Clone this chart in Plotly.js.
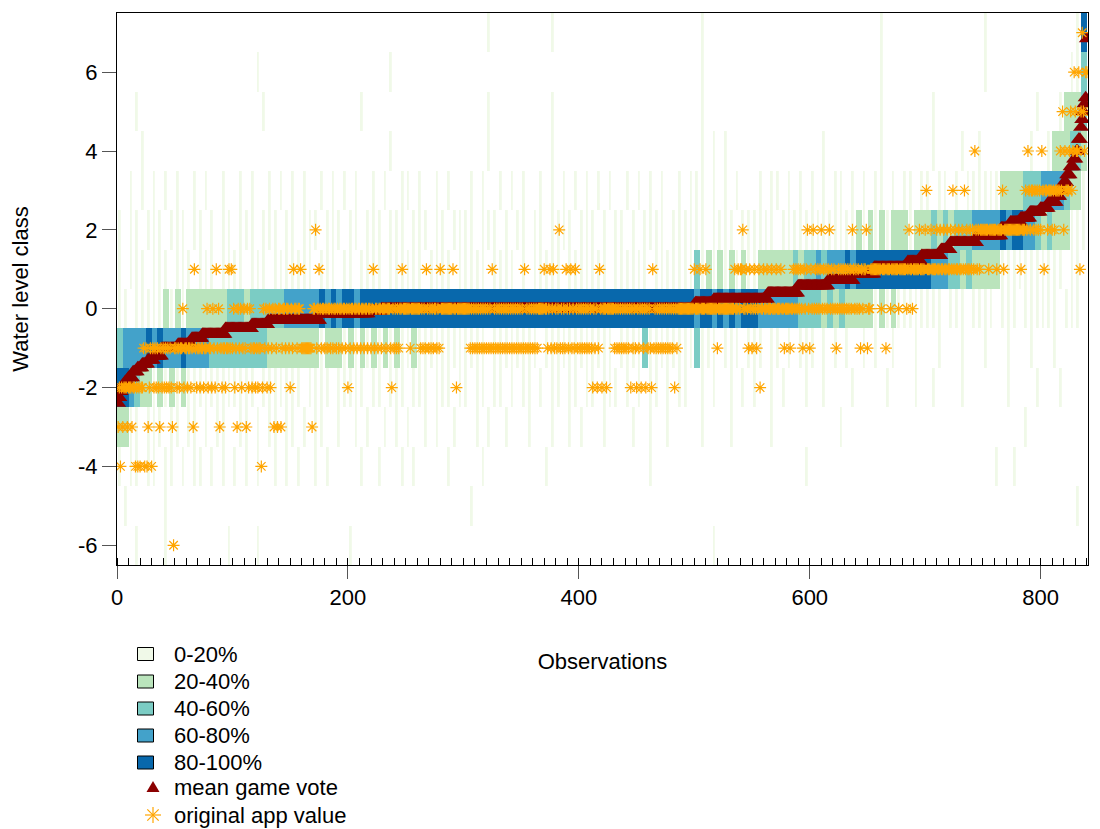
<!DOCTYPE html>
<html><head><meta charset="utf-8">
<script src="https://cdn.plot.ly/plotly-3.0.1.min.js"></script>
<style>html,body{margin:0;padding:0;background:#fff;}#chart{width:1100px;height:829px;}</style>
</head><body><div id="chart"></div>
<script>
// ---------------- data ----------------
const classes = [-6,-5,-4,-3,-2,-1,0,1,2,3,4,5,6,7];
const binWidth = 5; // observations per heatmap column
// vote share class per water level class; one digit per 5 observations
// 0 = no votes, 1 = 0-20%, 2 = 20-40%, 3 = 40-60%, 4 = 60-80%, 5 = 80-100%
const shareM6 = "0001000010 0000000001 0000100000 0000000000 1000000000 0000000000 0000000000 0000000000 0000000000 0000000000 0001000000 0000000000 0000000000 0000000000 0000000000 0000000000 00000000";
const shareM5 = "0100000010 0000000000 0000000000 0000000000 0000000000 0000000000 0100000000 0000000000 0000000000 0000000000 0000000000 0000000000 0000000000 0000000000 0000000000 0000000000 00000010";
const shareM4 = "1011011011 0101101010 1010100101 0100101000 0010010001 0100000100 0001000000 0000100000 0000000000 0010000000 0000000000 0000000001 0000000000 0000000000 0000000000 0010010000 00000000";
const shareM3 = "2211011101 1011010110 0110101101 1010110010 0101001010 1001010010 0010100100 0100010010 1000100001 0010010000 0100001000 0001000000 0000010000 0000000000 0000000000 0000000100 00000000";
const shareM2 = "5543221212 1211111111 1111011111 1101111011 1110110111 0111011101 1011011010 1101011011 0110111010 1011010110 0101001010 1001010001 0010000100 0001000010 0100001000 0000100001 00010000";
const shareM1 = "3444454544 4544443333 3333332222 2222212221 2121212121 1211111111 1111011111 1110111111 1111110111 1311111111 3111011101 1101101011 1010101001 0100100010 0010001000 1000100010 00100000";
const share0  = "1101111121 2122222223 3323333334 4444454545 5455555555 5555555555 5555555555 5555555555 5555555555 5555555555 4554545455 5444444433 3323232222 2121211111 1110111011 1101110111 11101110";
const shareP1 = "1011101110 1110111011 1101110111 1111011101 1011110111 1110111101 1111011110 1011111011 1111101111 1101111111 3121212121 1222222323 3434445455 5555555555 5444332322 2221111111 11110110";
const shareP2 = "1011011101 1101101011 0111011101 1011101110 1101110111 0111011011 1101110101 1011011110 1110101101 0111101111 1101111011 1111011111 1111111121 2121222122 2323233344 4445455443 23222111";
const shareP3 = "0010101010 1001010010 0101001010 1010010101 0100101001 1010010100 0101001010 1001010101 0101010010 1010100101 1101010100 0101101010 1010110101 0110101101 1011010111 1112222333 44443221";
const shareP4 = "0000100000 0000000000 0000000000 0000000000 0000000100 0000000000 0000100000 0000010000 0000000000 0000000000 0101010000 0000000000 0010000000 0010000000 0100001001 0000000010 01222332";
const shareP5 = "0001000000 0000000000 0000010000 0000000000 0010000000 0000000000 0000100000 0000010000 0000000000 0000000000 0100000000 0000000000 0000000000 0010000000 0100000000 0000000001 00012223";
const shareP6 = "0000000000 0000000000 0000100000 0000000000 0000000100 0000000000 0000000000 0000000000 0000000000 0000000000 0100000000 0000000000 0000000000 0010000000 0000000000 1000000000 00000113";
const shareP7 = "0000000000 0000000000 0000000000 0000000000 0000000000 0000000000 0000100000 0000010000 0000000000 0000000000 0100000000 0000000000 0000000000 0010000000 0000000000 1000000000 00000015";

// mean game vote (sorted): level and number of consecutive observations at that level
const meanLevels = [-2.4,-2.25,-2.1,-2.0,-1.85,-1.75,-1.6,-1.5,-1.4,-1.3,-1.2,-1.0,-0.9,-0.75,-0.65,-0.5,-0.4,-0.29,-0.13,-0.06,0,0.15,0.24,0.4,0.58,0.72,0.88,1.05,1.2,1.35,1.5,1.68,1.85,2.05,2.2,2.3,2.45,2.55,2.7,2.85,3.0,3.2,3.4,3.6,3.8,4.0,4.3,4.6,4.8,5.0,5.2,5.35,6.85];
const meanRunLengths = [1,1,1,3,3,4,4,4,5,5,7,14,12,9,20,23,14,45,42,11,272,16,47,26,26,22,18,29,12,17,8,23,21,8,9,8,9,7,7,3,3,3,3,3,2,2,2,1,1,1,1,1,1];

// original app value per observation (10 per string); a..f = -1..-6, digits = 0..7
const appCodes = [
"cbdbcbbbcb","bbcbbdbdbd","bbadadcbad","abababcaba","babababcfa","ababaa0baa","baabac1aba","abaabaa0ba","ab0ab1a0ca","baabaa1a1a",
"0bac0a0ba0","ac0b0abaab","abaadb0a0b","a0ba0c0ac0","0ca00a00ab","0a100a001a","aaaaaaaac0","02a010a00a","0a00a0a00a","0a00a00a0b",
"0a00a00a00","a00a00a00a","01a00a00a0","00a000ab0a","0a0a001000","000a000000","00a0a0a10a","0a0a00a0a1","0000000000","100b000000",
"00000a0a0a","0a0a0a0a0a","0a0a1a0a0a","0a0a0a0a0a","0a0a0a0a0a","0a1a0a0a0a","0a0a000001","00a01a01a0","a02a0a0a10","a01a0a10a0",
"a0a0a0a0a0","ab0a0ba10b","000b000000","a0a0a0a0a0","a0a0b0a0ab","0a0b0a0b0a","0ab1a0a0a0","a0a0a0a0a0","a0b0a00000","0000000001",
"0000100001","000000000a","0000000000","0000100101","120010a10a","010a01b001","0010001000","1000100a00","00a0010101","010a10120a",
"1020101012","0101012010","10a0101010","1010102101","010a10112a","0011111111","10111a1110","1111110111","1110121101","1111211112",
"3111211112","1121121121","1213121121","1213121121","2142121222","2222122222","2122223122","2222222222","2212223243","2332323232",
"4313323332","3233334352","4333453465","4461575466"
];

const shareLabels = ["0-20%","20-40%","40-60%","60-80%","80-100%"];
const shareColors = ["#F0F9E8","#BAE4BC","#7BCCC4","#43A2CA","#0868AC"];
const meanColor = "#8B0000";
const appColor = "#FFA500";
const xTickStep = 200, xMinorStep = 10;
const yTicks = [-6,-4,-2,0,2,4,6];

// ---------------- build traces ----------------
const decode = s => s.replace(/\s+/g,'').split('').map(Number);
const shareRows = [shareM6,shareM5,shareM4,shareM3,shareM2,shareM1,share0,shareP1,shareP2,shareP3,shareP4,shareP5,shareP6,shareP7];
const codes = shareRows.map(decode);
const zMain = codes.map(r => r.map(v => v > 1 ? v : null));   // 20-100% shares: solid blocks
const zPale = codes.map(r => r.map(v => v === 1 ? 1 : null));  // 0-20% shares: thin streaks
const nBins = codes[0].length;
const binX = Array.from({length:nBins}, (_,i) => i*binWidth + binWidth/2);

const cs = [];
shareColors.forEach((c,i) => { cs.push([i/5, c]); cs.push([(i+1)/5, c]); });

const meanX = [], meanY = [];
let k = 1;
meanLevels.forEach((v,i) => { for (let j=0;j<meanRunLengths[i];j++){ meanX.push(k++); meanY.push(v);} });

const codeMap = {a:-1,b:-2,c:-3,d:-4,e:-5,f:-6};
const appStr = appCodes.join('');
const appX = [], appY = [];
for (let i=0;i<appStr.length;i++){ const ch = appStr[i]; appX.push(i+1); appY.push(ch in codeMap ? codeMap[ch] : Number(ch)); }

const traces = [
  {type:'heatmap', x:binX, y:classes, z:zPale, colorscale:cs, zmin:0.5, zmax:5.5, showscale:false, hoverinfo:'skip', xgap:3.2},
  {type:'heatmap', x:binX, y:classes, z:zMain, colorscale:cs, zmin:0.5, zmax:5.5, showscale:false, hoverinfo:'skip'},
  {type:'scatter', mode:'markers', x:meanX, y:meanY, name:'mean game vote',
   marker:{symbol:'triangle-up', size:14, color:meanColor}, showlegend:false},
  {type:'scatter', mode:'markers', x:appX, y:appY, name:'original app value',
   marker:{symbol:'asterisk-open', size:10, color:appColor, line:{color:appColor, width:1.2}}, showlegend:false}
];

// ---------------- layout ----------------
const W = 1100, H = 829;
const M = {l:117, r:12, t:13, b:264};
const PW = W - M.l - M.r, PH = H - M.t - M.b;
const px = x => (x - M.l)/PW;
const py = y => (H - M.b - y)/PH;
const FONT = "Liberation Sans, Arial, sans-serif";

const shapes = [], annotations = [];
const rowY = [654, 681.5, 708.5, 735.5, 762.5, 787, 815];
shareLabels.forEach((lab,i) => {
  shapes.push({type:'rect', xref:'paper', yref:'paper', x0:px(137.5), x1:px(153.5), y0:py(rowY[i]+6.5), y1:py(rowY[i]-6.5),
    fillcolor:shareColors[i], line:{color:'#000', width:1}});
});
const legendText = shareLabels.concat(['mean game vote','original app value']);
legendText.forEach((t,i) => {
  annotations.push({xref:'paper', yref:'paper', x:px(172), y:py(rowY[i]), xanchor:'left', yanchor:'middle',
    text:t, showarrow:false, font:{family:FONT, size:22, color:'#000'}});
});
// triangle legend key
const tc = {x:153, y:rowY[5]};
shapes.push({type:'path', xref:'paper', yref:'paper',
  path:`M${px(tc.x-6.5)},${py(tc.y+5)} L${px(tc.x+6.5)},${py(tc.y+5)} L${px(tc.x)},${py(tc.y-6)} Z`,
  fillcolor:meanColor, line:{color:meanColor, width:0}});
// asterisk legend key
const ac = {x:153, y:rowY[6]}, ar = 8, ad = 5.7;
[[-ar,0,ar,0],[0,-ar,0,ar],[-ad,-ad,ad,ad],[-ad,ad,ad,-ad]].forEach(s => {
  shapes.push({type:'line', xref:'paper', yref:'paper', x0:px(ac.x+s[0]), y0:py(ac.y+s[1]), x1:px(ac.x+s[2]), y1:py(ac.y+s[3]),
    line:{color:appColor, width:1.2}});
});

const layout = {
  width:W, height:H, margin:M, paper_bgcolor:'#fff', plot_bgcolor:'#fff', showlegend:false,
  font:{family:FONT, size:22, color:'#000'},
  xaxis:{range:[0,841], tickmode:'linear', tick0:0, dtick:xTickStep, ticks:'outside', ticklen:13, tickcolor:'#555', tickwidth:1,
    minor:{dtick:xMinorStep, tick0:0, ticks:'inside', ticklen:7, tickcolor:'#000', tickwidth:1, showgrid:false},
    showgrid:false, zeroline:false, showline:true, mirror:true, linecolor:'#000', linewidth:1,
    tickfont:{family:FONT, size:22, color:'#000'},
    title:{text:'Observations', font:{family:FONT, size:22, color:'#000'}, standoff:44}},
  yaxis:{range:[-6.5,7.5], tickmode:'array', tickvals:yTicks, ticktext:yTicks.map(String), ticks:'outside', ticklen:14, tickcolor:'#555',
    showgrid:false, zeroline:false, showline:true, mirror:true, linecolor:'#000', linewidth:1,
    tickfont:{family:FONT, size:22, color:'#000'},
    title:{text:'Water level class', font:{family:FONT, size:22, color:'#000'}, standoff:43}},
  shapes:shapes, annotations:annotations
};

Plotly.newPlot('chart', traces, layout, {displayModeBar:false, staticPlot:true});
</script>
</body></html>
